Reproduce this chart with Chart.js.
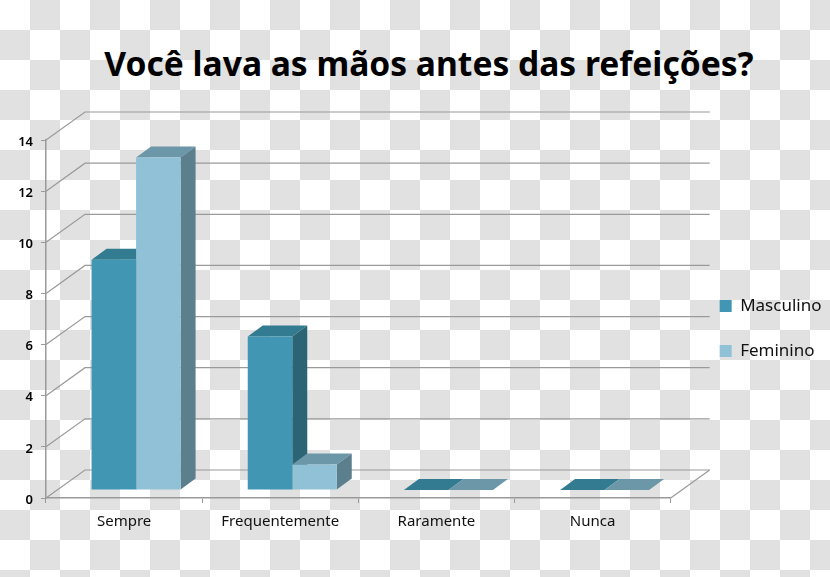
<!DOCTYPE html>
<html>
    <head>
        <meta charset="UTF-8">
        <title>Você lava as mãos antes das refeições?</title>
        <style>
            body { margin:0; width:830px; height:577px; overflow:hidden; position:relative;
                   background: repeating-conic-gradient(#e1e1e1 0 25%, #fff 0 50%) 0 0 / 60px 60px; }
            h1 { position:absolute; left:0; top:37px; width:858px; margin:0; text-align:center; white-space:nowrap;
                 font:bold 33.6px "Noto Sans", sans-serif; line-height:52px; color:#000; }
            canvas { position:absolute; left:0; top:0; }
        </style>
        <script src="https://cdn.jsdelivr.net/npm/chart.js@4"></script>
    </head>
    <body>
        <h1>Você lava as mãos antes das refeições?</h1>
        <canvas id="chart" width="830" height="577"></canvas>

        <script>
            const categories = ["Sempre", "Frequentemente", "Raramente", "Nunca"];
            const masculino = [9, 6, 0, 0];
            const feminino = [13, 1, 0, 0];
            const yTicks = [0, 2, 4, 6, 8, 10, 12, 14];

            // fake 3D: wall is pushed back from the axes, bars sit part way in
            const wall = {dx:39, dy:-28};
            const barShift = {dx:12, dy:-8};
            const barDepth = {dx:15, dy:-11};
            const faces = [
                {top:"#327b90", side:"#2a6475"},
                {top:"#6c97a8", side:"#5c7f8e"}
            ];

            function poly(ctx, pts, color){
                ctx.fillStyle = color;
                ctx.beginPath();
                pts.forEach(p=>ctx.lineTo(p[0], p[1]));
                ctx.closePath();
                ctx.fill();
            }

            const fake3d = {
                id:"fake3d",
                beforeDatasetsDraw(chart){
                    const {ctx, chartArea, scales} = chart;
                    const {left, right} = chartArea;

                    ctx.save();
                    ctx.strokeStyle = "#9a9a9a";
                    ctx.lineWidth = 1.2;
                    for(const v of yTicks){
                        const y = scales.y.getPixelForValue(v);
                        ctx.beginPath();
                        ctx.moveTo(left, y);
                        ctx.lineTo(left + wall.dx, y + wall.dy);
                        ctx.lineTo(right + wall.dx, y + wall.dy);
                        ctx.stroke();
                    }
                    const y0 = scales.y.getPixelForValue(0);
                    ctx.beginPath();
                    ctx.moveTo(right, y0);
                    ctx.lineTo(right + wall.dx, y0 + wall.dy);
                    ctx.stroke();
                    ctx.restore();

                    // everything until afterDatasetsDraw is in the bar plane
                    ctx.save();
                    ctx.translate(barShift.dx, barShift.dy);
                    chart.data.datasets.forEach((ds, i)=>{
                        chart.getDatasetMeta(i).data.forEach(bar=>{
                            const l = bar.x - bar.width/2, r = bar.x + bar.width/2;
                            const d = barDepth;
                            poly(ctx, [[l,bar.y],[r,bar.y],[r+d.dx,bar.y+d.dy],[l+d.dx,bar.y+d.dy]], faces[i].top);
                            if(bar.base - bar.y > 0){
                                poly(ctx, [[r,bar.y],[r+d.dx,bar.y+d.dy],[r+d.dx,bar.base+d.dy],[r,bar.base]], faces[i].side);
                            }
                        });
                    });
                },
                afterDatasetsDraw(chart){
                    chart.ctx.restore();
                }
            };

            new Chart(document.getElementById("chart"), {
                type:"bar",
                data:{
                    labels:categories,
                    datasets:[
                        {label:"Masculino", data:masculino, backgroundColor:"#4196b3", clip:false},
                        {label:"Feminino", data:feminino, backgroundColor:"#90c1d6", clip:false}
                    ]
                },
                options:{
                    responsive:false,
                    animation:false,
                    layout:{padding:{top:80}},
                    datasets:{bar:{categoryPercentage:0.57, barPercentage:1, borderWidth:0}},
                    scales:{
                        x:{
                            offset:true,
                            border:{color:"#9a9a9a", width:1.5},
                            grid:{offset:true, drawOnChartArea:false, color:"#9a9a9a", tickLength:5},
                            ticks:{color:"#111", padding:10, maxRotation:0, font:{family:"Noto Sans", size:15}},
                            afterFit(s){ s.height = 79; }
                        },
                        y:{
                            min:0,
                            max:14,
                            border:{color:"#9a9a9a", width:1.5},
                            grid:{drawOnChartArea:false, color:"#9a9a9a", tickLength:5},
                            afterBuildTicks(s){ s.ticks = yTicks.map(v=>({value:v})); },
                            ticks:{color:"#000", padding:8, labelOffset:2, font:{family:"Noto Sans", size:13, weight:"600"}},
                            afterFit(s){ s.width = 46; }
                        },
                        // empty axes, only keep the gaps around the plot so the legend stays where it is
                        gap:{
                            position:"right",
                            border:{display:false},
                            grid:{display:false},
                            ticks:{display:false},
                            afterFit(s){ s.width = 21; }
                        },
                        gapTop:{
                            type:"linear",
                            position:"top",
                            border:{display:false},
                            grid:{display:false},
                            ticks:{display:false},
                            afterFit(s){ s.height = 60; }
                        }
                    },
                    plugins:{
                        tooltip:{enabled:false},
                        legend:{
                            position:"right",
                            labels:{boxWidth:12, boxHeight:12, padding:28, color:"#111", font:{family:"Noto Sans", size:17}}
                        }
                    }
                },
                plugins:[fake3d]
            });
        </script>
    </body>
</html>
